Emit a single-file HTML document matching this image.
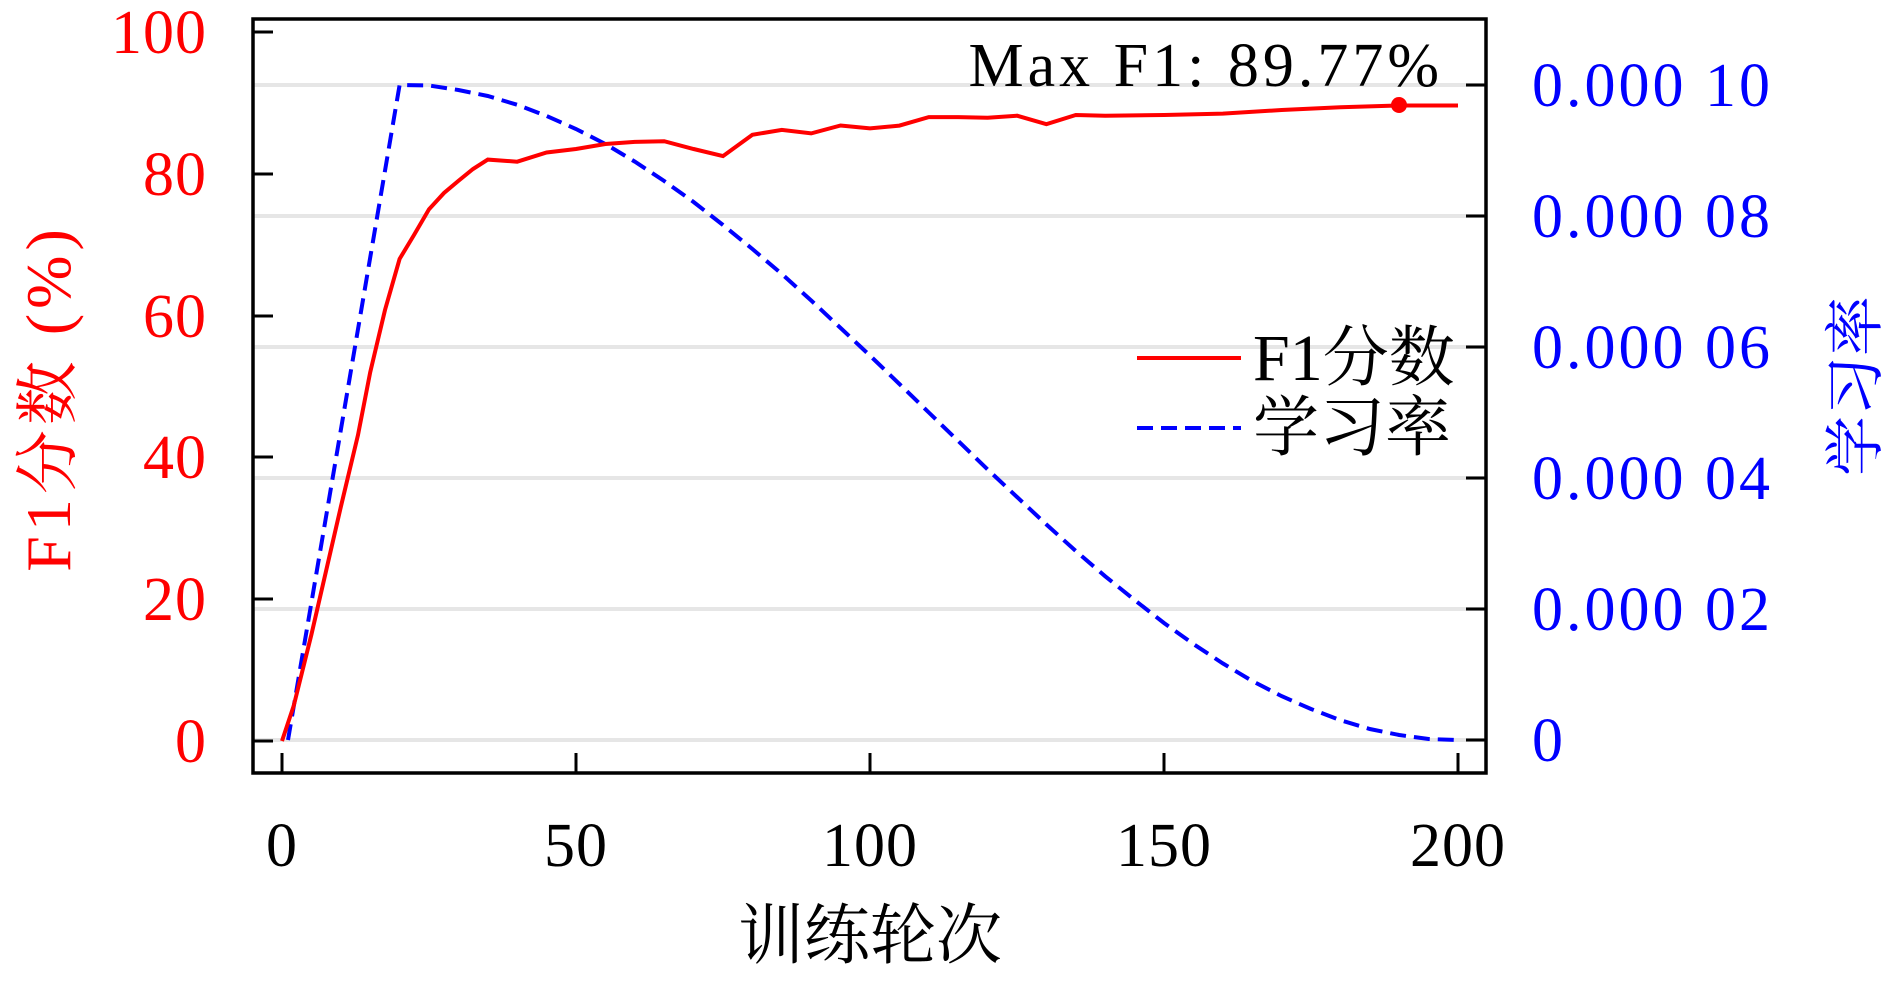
<!DOCTYPE html>
<html><head><meta charset="utf-8"><style>
html,body{margin:0;padding:0;background:#fff;}
svg text{font-family:"Liberation Serif","Noto Serif CJK SC",serif;}
</style></head><body>
<svg width="1890" height="976" viewBox="0 0 1890 976" xmlns="http://www.w3.org/2000/svg">
<rect width="1890" height="976" fill="#fff"/>
<g stroke="#e6e6e6" stroke-width="4">
<line x1="254" x2="1484" y1="85" y2="85"/>
<line x1="254" x2="1484" y1="216" y2="216"/>
<line x1="254" x2="1484" y1="347" y2="347"/>
<line x1="254" x2="1484" y1="478" y2="478"/>
<line x1="254" x2="1484" y1="609" y2="609"/>
<line x1="254" x2="1484" y1="740" y2="740"/>
</g>
<polyline fill="none" stroke="#0000ff" stroke-width="4" stroke-dasharray="16,8" points="288,740 399.6,85 429,85.5 458.4,90 487.8,96 517.2,104.8 546.6,116 576,129 605.4,144 634.8,161.6 664.2,181 693.6,202 723,225 752.4,249 781.8,274 811.2,300.5 840.6,328 870,355.6 899.4,384 928.8,412.5 958.2,441 987.6,469.4 1017,497 1046.4,524.5 1075.8,551 1105.2,576.3 1134.6,600 1164,623 1193.4,644 1222.8,663.4 1252.2,681 1281.6,696.1 1311,709 1340.4,720.2 1369.8,729 1399.2,735 1428.6,739 1458,740"/>
<polyline fill="none" stroke="#ff0000" stroke-width="4" points="282,741 293.8,705.5 311.4,634.6 340.8,507 358,435 370.2,372.3 385,310 399.6,258.9 414,235 429,209.3 444,193 458.4,180.9 473,169 487.8,159.6 517.2,161.7 546.6,152.5 576,149 605.4,144 634.8,141.9 664.2,141.2 693.6,149 723,156.1 752.4,134.8 781.8,129.9 811.2,133.4 840.6,125.5 870,128.4 899.4,125.6 928.8,117.1 958.2,117.1 987.6,117.8 1017,115.7 1046.4,124.2 1075.8,115 1105.2,115.7 1164,115 1222.8,113.6 1281.6,110 1340.4,107.2 1399.2,105.5 1458,105.5"/>
<circle cx="1399" cy="105" r="8" fill="#ff0000"/>
<rect x="253" y="19" width="1233" height="754" fill="none" stroke="#000" stroke-width="3.5"/>
<g stroke="#000" stroke-width="3">
<line x1="253" x2="273" y1="32" y2="32"/><line x1="253" x2="273" y1="174" y2="174"/><line x1="253" x2="273" y1="316" y2="316"/><line x1="253" x2="273" y1="457" y2="457"/><line x1="253" x2="273" y1="599" y2="599"/><line x1="253" x2="273" y1="741" y2="741"/>
<line x1="1466" x2="1486" y1="85" y2="85"/><line x1="1466" x2="1486" y1="216" y2="216"/><line x1="1466" x2="1486" y1="347" y2="347"/><line x1="1466" x2="1486" y1="478" y2="478"/><line x1="1466" x2="1486" y1="609" y2="609"/><line x1="1466" x2="1486" y1="740" y2="740"/>
<line x1="282" x2="282" y1="753" y2="773"/><line x1="576" x2="576" y1="753" y2="773"/><line x1="870" x2="870" y1="753" y2="773"/><line x1="1164" x2="1164" y1="753" y2="773"/><line x1="1458" x2="1458" y1="753" y2="773"/>
</g>
<g fill="#ff0000" font-size="62" text-anchor="end" letter-spacing="1">
<text x="207" y="53">100</text><text x="207" y="195">80</text><text x="207" y="337">60</text><text x="207" y="478">40</text><text x="207" y="620">20</text><text x="207" y="762">0</text>
</g>
<g fill="#0000ff" font-size="62" letter-spacing="3">
<text x="1532" y="106">0.000 10</text><text x="1532" y="237">0.000 08</text><text x="1532" y="368">0.000 06</text><text x="1532" y="499">0.000 04</text><text x="1532" y="630">0.000 02</text><text x="1532" y="761">0</text>
</g>
<g fill="#000" font-size="62" text-anchor="middle" letter-spacing="1">
<text x="282" y="866">0</text><text x="576" y="866">50</text><text x="870" y="866">100</text><text x="1164" y="866">150</text><text x="1458" y="866">200</text>
</g>
<text x="870" y="958" font-size="66" text-anchor="middle" fill="#000">训练轮次</text>
<text x="1443" y="86" font-size="62" text-anchor="end" fill="#000" letter-spacing="4">Max F1: 89.77%</text>
<text transform="translate(70,398) rotate(-90)" font-size="64" text-anchor="middle" fill="#ff0000" letter-spacing="5">F1分数 (%)</text>
<text transform="translate(1876,386) rotate(-90)" font-size="60" text-anchor="middle" fill="#0000ff">学习率</text>
<line x1="1137" x2="1241" y1="358" y2="358" stroke="#ff0000" stroke-width="4"/>
<line x1="1137" x2="1241" y1="428" y2="428" stroke="#0000ff" stroke-width="4" stroke-dasharray="16,8"/>
<text x="1253" y="380" font-size="66" fill="#000">F1分数</text>
<text x="1253" y="450" font-size="66" fill="#000">学习率</text>
</svg>
</body></html>
